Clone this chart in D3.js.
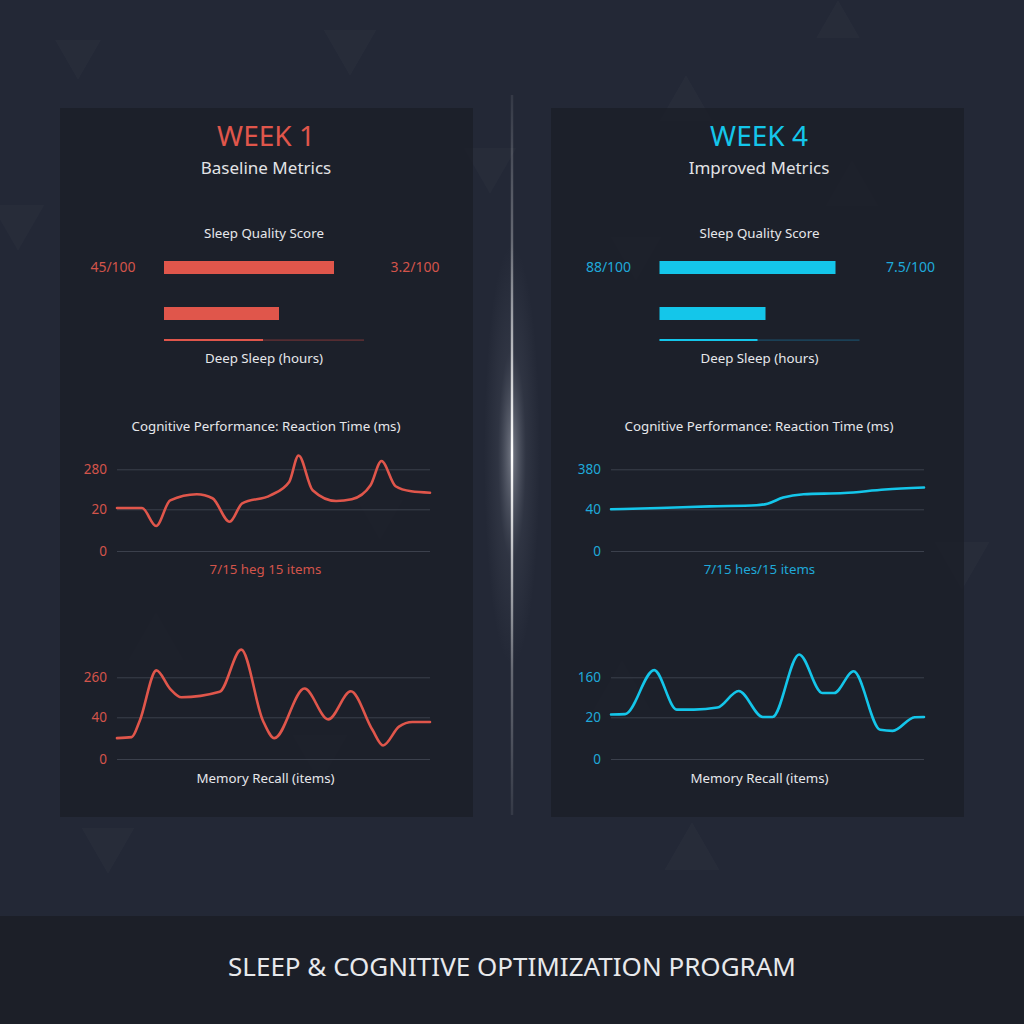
<!DOCTYPE html>
<html><head><meta charset="utf-8">
<script src="https://cdn.jsdelivr.net/npm/d3@7"></script>
<style>html,body{margin:0;padding:0;background:#232836;}svg{display:block;}</style>
</head><body>
<script>
// ---------- DATA ----------
const weeks = ["WEEK 1", "WEEK 4"];
const subtitles = ["Baseline Metrics", "Improved Metrics"];
const scoreLeftLabels = ["45/100", "88/100"];
const scoreRightLabels = ["3.2/100", "7.5/100"];
const qualityBar = [8.5, 8.8];        // track units (0-10)
const deepSleepBar = [5.75, 5.3];
const deepSleepProgress = [4.95, 4.9];
const reactionNotes = ["7/15 heg 15 items", "7/15 hes/15 items"];

const reactionTicks = [[0, 20, 280], [0, 40, 380]];
const reactionT = [
  [0, 8, 12.5, 17, 25.5, 30.5, 36, 40, 49, 55, 58, 62.5, 70, 75, 81, 84.5, 89, 94, 100],
  [0, 15.5, 31.5, 46.5, 50, 55, 61.5, 74.5, 87.5, 100]
];
const reactionV = [
  [28, 28, 12, 78, 118, 92, 14, 59, 111, 198, 370, 144, 74, 85, 176, 334, 170, 137, 128],
  [40, 51, 65, 74, 88, 140, 168, 178, 208, 225]
];

const memoryTicks = [[0, 40, 260], [0, 20, 160]];
const memoryT = [
  [0, 4.7, 7.3, 12.6, 16.9, 20.6, 32.8, 39.7, 46.6, 50.3, 59.9, 67.5, 74.7, 81.6, 85, 90.1, 94.4, 100],
  [0, 4.5, 13.8, 21, 26.5, 34, 40.8, 48.5, 51.6, 60.1, 67.5, 71.3, 77.5, 86, 90, 97, 100]
];
const memoryV = [
  [20, 21, 37, 298, 198, 150, 180, 412, 37, 20, 198, 38, 183, 28, 13, 31, 35.5, 35.5],
  [30, 31, 185, 47, 47, 54, 112, 21, 21, 240, 105, 105, 181, 14, 13.5, 20, 21]
];
const footerTitle = "SLEEP & COGNITIVE OPTIMIZATION PROGRAM";

// ---------- STYLE / LAYOUT ----------
const colors = ["#e0564b", "#14c6ea"];
const tickColors = ["#d3544a", "#1fa9d9"];
const dimColors = ["#6e3236", "#1b4f6a"];
const FONT = "'Noto Sans', 'Open Sans', sans-serif";
const W = 1024, H = 1024;
const panels = [{x: 60, cx: 266, trackC: 264, plotX: 117}, {x: 551, cx: 759, trackC: 759.5, plotX: 611}];
const panelW = 413, panelY = 108, panelH = 709;
const plotW = 313;
const SMALL = 13.3;

const svg = d3.select("body").append("svg").attr("width", W).attr("height", H);
const defs = svg.append("defs");

// background
svg.append("rect").attr("width", W).attr("height", H).attr("fill", "#232836");
svg.append("rect").attr("y", 916).attr("width", W).attr("height", 108).attr("fill", "#1c1f28");

// decorative faint triangles
const tris = [
  {x: 350, y: 30, s: 46, d: 1}, {x: 686, y: 75, s: 46, d: -1}, {x: 490, y: 148, s: 46, d: 1},
  {x: 18, y: 205, s: 46, d: 1}, {x: 852, y: 160, s: 46, d: -1}, {x: 636, y: 237, s: 44, d: 1},
  {x: 962, y: 542, s: 48, d: 1}, {x: 156, y: 612, s: 48, d: -1}, {x: 320, y: 735, s: 48, d: 1},
  {x: 622, y: 660, s: 50, d: -1}, {x: 108, y: 828, s: 46, d: 1}, {x: 692, y: 822, s: 48, d: -1},
  {x: 838, y: 0, s: 38, d: -1}, {x: 78, y: 40, s: 40, d: 1}, {x: 380, y: 500, s: 40, d: 1}
];
svg.append("g").selectAll("path").data(tris).join("path")
  .attr("d", t => {
    const h = t.s, w = t.s * 1.15;
    return t.d > 0
      ? `M${t.x - w / 2},${t.y}L${t.x + w / 2},${t.y}L${t.x},${t.y + h}Z`
      : `M${t.x - w / 2},${t.y + h}L${t.x + w / 2},${t.y + h}L${t.x},${t.y}Z`;
  })
  .attr("fill", "#ffffff").attr("fill-opacity", 0.02);

// panels
panels.forEach(p => {
  svg.append("rect").attr("x", p.x).attr("y", panelY).attr("width", panelW).attr("height", panelH)
    .attr("fill", "#1b1e27").attr("fill-opacity", 0.75);
});

// divider glow
const lg = defs.append("linearGradient").attr("id", "divg").attr("x1", 0).attr("y1", 0).attr("x2", 0).attr("y2", 1);
lg.append("stop").attr("offset", 0).attr("stop-color", "#ffffff").attr("stop-opacity", 0.08);
lg.append("stop").attr("offset", 0.2).attr("stop-color", "#ffffff").attr("stop-opacity", 0.3);
lg.append("stop").attr("offset", 0.5).attr("stop-color", "#ffffff").attr("stop-opacity", 1);
lg.append("stop").attr("offset", 0.8).attr("stop-color", "#ffffff").attr("stop-opacity", 0.3);
lg.append("stop").attr("offset", 1).attr("stop-color", "#ffffff").attr("stop-opacity", 0.08);
const rg = defs.append("radialGradient").attr("id", "glow");
rg.append("stop").attr("offset", 0).attr("stop-color", "#c8ccd6").attr("stop-opacity", 0.5);
rg.append("stop").attr("offset", 0.5).attr("stop-color", "#8a90a0").attr("stop-opacity", 0.12);
rg.append("stop").attr("offset", 1).attr("stop-color", "#8a90a0").attr("stop-opacity", 0);
svg.append("ellipse").attr("cx", 512).attr("cy", 455).attr("rx", 28).attr("ry", 210).attr("fill", "url(#glow)");
svg.append("rect").attr("x", 510.8).attr("y", 95).attr("width", 2.4).attr("height", 720).attr("fill", "url(#divg)");

// ---------- PANEL CONTENT ----------
panels.forEach((p, i) => {
  const g = svg.append("g");
  const c = colors[i];

  g.append("text").attr("x", p.cx).attr("y", 146).attr("text-anchor", "middle")
    .attr("font-family", FONT).attr("font-size", 28).attr("fill", c).text(weeks[i]);
  g.append("text").attr("x", p.cx).attr("y", 174).attr("text-anchor", "middle")
    .attr("font-family", FONT).attr("font-size", 17).attr("fill", "#e2e3e6").text(subtitles[i]);

  // Sleep quality bars
  g.append("text").attr("x", p.trackC).attr("y", 238).attr("text-anchor", "middle")
    .attr("font-family", FONT).attr("font-size", SMALL).attr("fill", "#e6e7ea").text("Sleep Quality Score");
  const bx = d3.scaleLinear().domain([0, 10]).range([p.trackC - 100, p.trackC + 100]);
  g.append("text").attr("x", p.trackC - 151).attr("y", 272).attr("text-anchor", "middle")
    .attr("font-family", FONT).attr("font-size", 14).attr("fill", tickColors[i]).text(scoreLeftLabels[i]);
  g.append("text").attr("x", p.trackC + 151).attr("y", 272).attr("text-anchor", "middle")
    .attr("font-family", FONT).attr("font-size", 14).attr("fill", tickColors[i]).text(scoreRightLabels[i]);
  g.append("rect").attr("x", bx(0)).attr("y", 261).attr("width", bx(qualityBar[i]) - bx(0)).attr("height", 13).attr("fill", c);
  g.append("rect").attr("x", bx(0)).attr("y", 307).attr("width", bx(deepSleepBar[i]) - bx(0)).attr("height", 13).attr("fill", c);
  g.append("rect").attr("x", bx(0)).attr("y", 339.5).attr("width", bx(10) - bx(0)).attr("height", 1.2).attr("fill", dimColors[i]);
  g.append("rect").attr("x", bx(0)).attr("y", 339).attr("width", bx(deepSleepProgress[i]) - bx(0)).attr("height", 2).attr("fill", c);
  g.append("text").attr("x", p.trackC).attr("y", 363).attr("text-anchor", "middle")
    .attr("font-family", FONT).attr("font-size", SMALL).attr("fill", "#e6e7ea").text("Deep Sleep (hours)");

  // line chart helper
  function lineChart(ticks, ts, vs, yRange, title, titleY, note, noteY, noteColor) {
    const x = d3.scaleLinear().domain([0, 100]).range([p.plotX, p.plotX + plotW]);
    const y = d3.scaleLinear().domain(ticks).range(yRange);
    const ax = g.append("g").attr("transform", `translate(${p.plotX},0)`)
      .call(d3.axisLeft(y).tickValues(ticks).tickSize(-plotW).tickPadding(10).tickFormat(d3.format("d")));
    ax.select(".domain").remove();
    ax.selectAll(".tick line").attr("stroke", "#3b404c").attr("stroke-width", 1);
    ax.selectAll(".tick text").attr("fill", tickColors[i]).attr("font-family", FONT).attr("font-size", 13.5);
    const pts = ts.map((t, k) => [t, vs[k]]);
    g.append("path").datum(pts)
      .attr("d", d3.line().x(d => x(d[0])).y(d => y(d[1])).curve(d3.curveMonotoneX))
      .attr("fill", "none").attr("stroke", c).attr("stroke-width", 2.6).attr("stroke-linecap", "round");
    if (title) g.append("text").attr("x", p.cx).attr("y", titleY).attr("text-anchor", "middle")
      .attr("font-family", FONT).attr("font-size", SMALL).attr("fill", "#e6e7ea").text(title);
    if (note) g.append("text").attr("x", p.plotX + plotW / 2 - 8).attr("y", noteY).attr("text-anchor", "middle")
      .attr("font-family", FONT).attr("font-size", SMALL).attr("fill", noteColor).text(note);
  }

  lineChart(reactionTicks[i], reactionT[i], reactionV[i], [551, 509.3, 469.3],
    "Cognitive Performance: Reaction Time (ms)", 431, reactionNotes[i], 574, tickColors[i]);
  lineChart(memoryTicks[i], memoryT[i], memoryV[i], [759, 717.3, 677.3],
    null, 0, "Memory Recall (items)", 783, "#e6e7ea");
});

// footer
svg.append("text").attr("x", 512).attr("y", 976).attr("text-anchor", "middle")
  .attr("font-family", FONT).attr("font-size", 26).attr("fill", "#e8e9ec").text(footerTitle);
</script>
</body></html>
